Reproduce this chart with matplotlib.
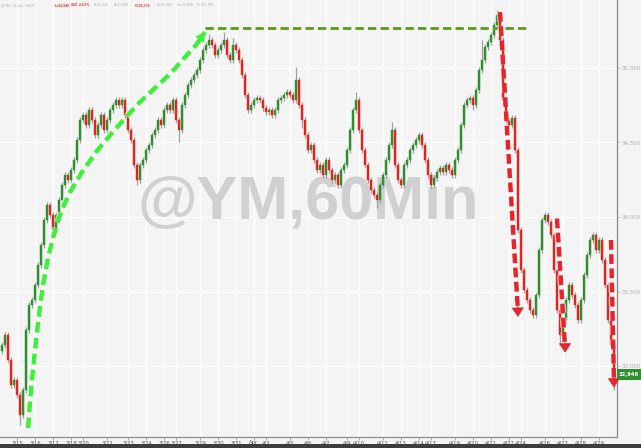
import numpy as np
import matplotlib
matplotlib.use("Agg")
import matplotlib.pyplot as plt
from matplotlib.patches import Rectangle
import matplotlib.patheffects as pe

# ---------------- data ----------------
first_open = 33100
closes = [
    33141, 33208, 33040, 32873, 32906, 32806, 32671, 32839, 33242, 33410,
    33443, 33544, 33678, 33812, 33980, 34080, 34013, 33913, 34013, 34114,
    34215, 34282, 34248, 34315, 34382, 34517, 34651, 34684, 34617, 34718,
    34651, 34550, 34617, 34684, 34584, 34651, 34718, 34751, 34785, 34751,
    34785, 34684, 34584, 34517, 34349, 34248, 34349, 34382, 34450, 34483,
    34550, 34584, 34651, 34617, 34718, 34751, 34718, 34785, 34651, 34584,
    34751, 34819, 34886, 34919, 34953, 34986, 35053, 35120, 35154, 35188,
    35154, 35087, 35120, 35154, 35188, 35087, 35053, 35154, 35120, 35053,
    34953, 34819, 34718, 34751, 34785, 34798, 34785, 34731, 34705, 34718,
    34684, 34718, 34785, 34798, 34819, 34839, 34819, 34785, 34919, 34751,
    34651, 34550, 34450, 34483, 34382, 34315, 34349, 34282, 34382, 34315,
    34248, 34282, 34215, 34315, 34349, 34450, 34584, 34718, 34785, 34584,
    34450, 34349, 34248, 34181, 34148, 34114, 34215, 34282, 34382, 34483,
    34584, 34349, 34248, 34215, 34349, 34382, 34450, 34483, 34517, 34550,
    34483, 34382, 34282, 34215, 34262, 34302, 34329, 34302, 34349, 34315,
    34282, 34382, 34450, 34617, 34751, 34785, 34798, 34751, 34852, 34986,
    35053, 35141, 35174, 35221, 35288, 35355, 35188, 34785, 34651, 34617,
    34664, 34450, 33913, 33644, 33510, 33443, 33376, 33342, 33477, 33779,
    33980, 34013, 33966, 33879, 33644, 33376, 33208, 33309, 33443, 33544,
    33477, 33410, 33309, 33443, 33611, 33745, 33846, 33879, 33779, 33846,
    33711, 33544, 33309, 33141, 32946,
]
wick = 22
high_spikes = {69: 35225, 74: 35240, 77: 35200, 98: 35005, 118: 34840,
               130: 34640, 160: 35190, 165: 35392}
low_spikes = {6: 32605, 45: 34215, 59: 34500, 100: 34600, 125: 34060,
              157: 34720, 186: 33140, 204: 32839}

tick_pos = [5, 11, 17, 23, 27, 35, 42, 48, 54, 58, 66, 72, 78, 84, 88, 96, 102,
            108, 115, 119, 127, 133, 139, 143, 151, 157, 163, 169, 173, 181,
            187, 193, 199]
tick_labels = ["3/15", "3/16", "3/17", "3/18", "3/20", "3/22", "3/23", "3/24",
               "3/26", "3/27", "3/29", "3/30", "3/31", "Apr", "4/3", "4/5",
               "4/6", "4/7", "4/9", "4/10", "4/12", "4/13", "4/14", "4/17",
               "4/19", "4/20", "4/21", "4/22", "4/24", "4/26", "4/27", "4/28",
               "4/29"]
y_ticks = [33000, 33500, 34000, 34500, 35000]
y_labels = ["33,000", "33,500", "34,000", "34,500", "35,000"]
last_price_label = "32,946"

# annotation anchors (bar index, price)
green_curve_x = [8.67, 9.67, 11.0, 12.33, 13.67, 15.33, 17.33, 19.67, 22.67,
                 26.67, 31.33, 36.33, 41.33, 46.33, 51.33, 56.33, 61.33, 64.67]
green_curve_y = [32584, 32839, 33108, 33342, 33544, 33725, 33886, 34033, 34168,
                 34302, 34436, 34557, 34671, 34778, 34872, 34966, 35080, 35154]
green_tip = (67.67, 35241)
olive_line = [(67.7, 35268), (176.0, 35268)]
red_arrows = [((166.0, 35375), (172.0, 33360)),
              ((185.0, 33990), (187.7, 33120)),
              ((203.0, 33846), (204.0, 32886))]

header = [
    (1, "@YM - 60 min  CBOT", "#b0b0b0", "normal"),
    (55, "L=32,946", "#e02a2a", "bold"),
    (71, "-883", "#e02a2a", "bold"),
    (79, "-2.61%", "#e02a2a", "bold"),
    (94, "B=32,943", "#b0b0b0", "normal"),
    (114, "A=32,946", "#b0b0b0", "normal"),
    (135, "O=33,735", "#e02a2a", "bold"),
    (157, "Hi=33,983", "#b0b0b0", "normal"),
    (177, "Lo=32,839", "#b0b0b0", "normal"),
    (197, "V=195,799", "#b0b0b0", "normal"),
]

# ---------------- figure ----------------
W, H = 641, 448
fig = plt.figure(figsize=(W / 100, H / 100), dpi=100)
fig.patch.set_facecolor("#f4f4f4")
ax = fig.add_axes([0, 11 / H, 617 / W, 437 / H])
ax.set_facecolor("#f4f4f4")

n = len(closes)
x = np.arange(n)
c = np.array(closes, dtype=float)
o = np.r_[first_open, c[:-1]]
hi = np.maximum(o, c) + wick
lo = np.minimum(o, c) - wick
for k, v in high_spikes.items():
    hi[k] = v
for k, v in low_spikes.items():
    lo[k] = v

ax.set_xlim(-0.667, 205)
ax.set_ylim(32524, 35456)

for xv in tick_pos:
    ax.axvline(xv, color="white", lw=1.0, zorder=0)
for yv in y_ticks:
    ax.axhline(yv, color="white", lw=0.8, zorder=0)

# watermark
ax.text(0.5, 0.535, "@YM,60Min", transform=ax.transAxes, ha="center",
        va="center", fontsize=44, fontweight="bold", color="#d0d0d0",
        family="Liberation Sans", zorder=1)

up = c >= o
ax.vlines(x, lo, hi, color="#a0a0a0", lw=0.9, zorder=2)
body_h = np.maximum(np.abs(c - o), 6)
ax.bar(x[up], body_h[up], bottom=np.minimum(o, c)[up], width=0.7,
       color="#2e8f2e", edgecolor="#2e8f2e", lw=0.3, zorder=3)
ax.bar(x[~up], body_h[~up], bottom=np.minimum(o, c)[~up], width=0.7,
       color="#e3241c", edgecolor="#e3241c", lw=0.3, zorder=3)

glow = [pe.withStroke(linewidth=5, foreground="white", alpha=0.6)]

# green curved arrow
gl, = ax.plot(green_curve_x + [green_tip[0]], green_curve_y + [green_tip[1]],
              color="#3ff03a", lw=3.2, linestyle=(0, (2.4, 1.2)), zorder=5,
              solid_joinstyle="round")
gl.set_path_effects(glow)
ax.annotate("", xy=green_tip, xytext=(green_curve_x[-1], green_curve_y[-1]),
            arrowprops=dict(arrowstyle="-|>,head_width=0.35,head_length=0.6",
                            color="#3ff03a", lw=0.5, shrinkA=0, shrinkB=0),
            zorder=6)

# olive dashed line
ax.plot([p[0] for p in olive_line], [p[1] for p in olive_line],
        color="#5b9a1a", lw=2.0, linestyle=(0, (3, 1.5)), zorder=5,
        solid_capstyle="butt")

# red arrows
for (x0, y0), (x1, y1) in red_arrows:
    ln, = ax.plot([x0, x1], [y0, y1], color="#e8232b", lw=3.2,
                  linestyle=(0, (2.2, 1.0)), zorder=5)
    ln.set_path_effects(glow)
    ax.annotate("", xy=(x1, y1 - 30), xytext=(x1 - (x1 - x0) * 0.03, y1 + 90),
                arrowprops=dict(arrowstyle="-|>,head_width=0.4,head_length=0.6",
                                color="#e8232b", lw=0.5, shrinkA=0, shrinkB=0),
                zorder=6)

# axes styling
for s in ["top", "left"]:
    ax.spines[s].set_visible(False)
ax.spines["right"].set_color("#8a8a8a")
ax.spines["bottom"].set_color("#8a8a8a")
ax.spines["right"].set_linewidth(0.9)
ax.spines["bottom"].set_linewidth(0.9)
ax.yaxis.tick_right()
ax.set_yticks(y_ticks)
ax.set_yticklabels(y_labels)
ax.tick_params(axis="y", colors="#b0b0b0", labelsize=4, length=2, pad=1.5,
               width=0.5)
ax.set_xticks(tick_pos)
ax.set_xticklabels(tick_labels)
ax.tick_params(axis="x", colors="#555555", labelsize=3.8, length=2, pad=0.5,
               width=0.5)
ax.tick_params(axis="x", color="#888888")

# header texts
for px, txt, col, wt in header:
    fig.text(px / W, 1 - 5 / H, txt, color=col, fontsize=2.5, fontweight=wt,
             va="center", ha="left", family="Liberation Sans")

# bottom band
fig.patches.append(Rectangle((0, 0), 1, 4 / H, transform=fig.transFigure,
                             facecolor="#3d3d3d", edgecolor="none"))

# last price box
ylast = ax.transData.transform((0, closes[-1]))[1]
fig.patches.append(Rectangle((617 / W, (ylast - 5.5) / H), 24 / W, 11 / H,
                             transform=fig.transFigure, facecolor="#2e8f2e",
                             edgecolor="none"))
fig.text(619 / W, ylast / H, last_price_label, color="white", fontsize=3.8,
         fontweight="bold", va="center", ha="left")

fig.savefig("out.png", dpi=100, facecolor=fig.get_facecolor())
